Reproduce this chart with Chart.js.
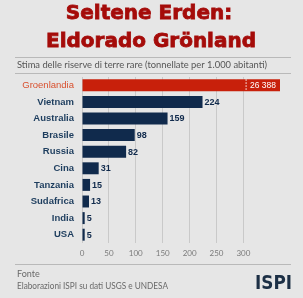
<!DOCTYPE html>
<html>
<head>
<meta charset="utf-8">
<script src="https://cdn.jsdelivr.net/npm/chart.js@4"></script>
<style>
  html, body { margin: 0; padding: 0; background: #e6e6e6; }
  #wrap { position: relative; width: 303px; height: 298px; }
</style>
</head>
<body>
<div id="wrap"><canvas id="c" width="303" height="298"></canvas></div>
<script>
  "use strict";

  const categories = ["Groenlandia", "Vietnam", "Australia", "Brasile", "Russia",
    "Cina", "Tanzania", "Sudafrica", "India", "USA"];
  const values = [26388, 224, 159, 98, 82, 31, 15, 13, 5, 5];
  const tickValues = [0, 50, 100, 150, 200, 250, 300];

  const TITLE = ["Seltene Erden:", "Eldorado Grönland"];
  const SUBTITLE = "Stima delle riserve di terre rare (tonnellate per 1.000 abitanti)";
  const SOURCE = ["Fonte", "Elaborazioni ISPI su dati USGS e UNDESA"];

  const RED = "#c8200b";
  const NAVY = "#102a4c";
  const AXIS_MAX = 368;

  function fmt(v) {
    return String(v).replace(/\B(?=(\d{3})+(?!\d))/g, " ");
  }

  // cornice: titolo, righe, fonte, logo
  const frame = {
    id: "frame",
    beforeDraw(chart) {
      const ctx = chart.ctx;
      ctx.save();
      ctx.textBaseline = "alphabetic";
      ctx.textAlign = "center";
      ctx.fillStyle = "#a50c0a";
      ctx.strokeStyle = "#a50c0a";
      ctx.lineWidth = 0.8;
      ctx.font = "bold 20px 'DejaVu Sans'";
      ctx.fillText(TITLE[0], 149, 19, 168);
      ctx.strokeText(TITLE[0], 149, 19, 168);
      ctx.fillText(TITLE[1], 151, 47, 210);
      ctx.strokeText(TITLE[1], 151, 47, 210);

      ctx.strokeStyle = "#b9b9b9";
      ctx.lineWidth = 1;
      [57.5, 73.5, 264.5].forEach((y) => {
        ctx.beginPath();
        ctx.moveTo(15, y);
        ctx.lineTo(291, y);
        ctx.stroke();
      });

      ctx.textAlign = "left";
      ctx.fillStyle = "#555";
      ctx.font = "9.5px Lato";
      ctx.fillText(SUBTITLE, 17, 68, 250);

      ctx.fillStyle = "#6a6a6a";
      ctx.font = "9px Lato";
      ctx.fillText(SOURCE[0], 17, 277);
      ctx.fillText(SOURCE[1], 17, 289, 151);

      ctx.fillStyle = "#1c2f45";
      ctx.font = "bold 20px 'DejaVu Sans'";
      ctx.fillText("ISPI", 255, 289, 37);
      ctx.restore();
    },
  };

  // etichette dei valori + interruzione della barra fuori scala
  const valueLabels = {
    id: "valueLabels",
    afterDatasetsDraw(chart) {
      const ctx = chart.ctx;
      const area = chart.chartArea;
      const xs = chart.scales.x;
      const meta = chart.getDatasetMeta(0);
      ctx.save();
      ctx.textBaseline = "middle";
      meta.data.forEach((bar, i) => {
        const v = values[i];
        if (v > AXIS_MAX) {
          const bx = xs.getPixelForValue(305);
          ctx.strokeStyle = "#fff";
          ctx.setLineDash([1.5, 1.5]);
          ctx.beginPath();
          ctx.moveTo(bx, bar.y - bar.height / 2);
          ctx.lineTo(bx, bar.y + bar.height / 2);
          ctx.stroke();
          ctx.setLineDash([]);
          ctx.fillStyle = "#fff";
          ctx.textAlign = "right";
          ctx.font = "9px 'Liberation Sans'";
          ctx.fillText(fmt(v), area.right - 4, bar.y + 0.5, 26);
        } else {
          ctx.fillStyle = NAVY;
          ctx.textAlign = "left";
          ctx.font = "bold 9px 'Liberation Sans'";
          ctx.fillText(fmt(v), bar.x + 2, bar.y + 0.5);
        }
      });
      ctx.restore();
    },
  };

  new Chart(document.getElementById("c"), {
    type: "bar",
    data: {
      labels: categories,
      datasets: [{
        data: values,
        backgroundColor: categories.map((c, i) => (i === 0 ? RED : NAVY)),
        borderWidth: 0,
        categoryPercentage: 0.8,
        barPercentage: 0.9,
      }],
    },
    plugins: [frame, valueLabels],
    options: {
      indexAxis: "y",
      responsive: false,
      animation: false,
      layout: { padding: { top: 77, right: 23, bottom: 35, left: 0 } },
      plugins: {
        legend: { display: false },
        tooltip: { enabled: false },
      },
      scales: {
        x: {
          type: "linear",
          min: 0,
          max: AXIS_MAX,
          afterBuildTicks: (s) => { s.ticks = tickValues.map((v) => ({ value: v })); },
          afterFit: (s) => { s.height = 20; },
          border: { display: false },
          grid: { color: "#c9c9c9", lineWidth: 1, drawTicks: false },
          ticks: {
            color: "#7a7a7a",
            font: { family: "Lato", size: 8 },
            padding: 6,
          },
        },
        y: {
          afterFit: (s) => { s.width = 82; },
          border: { display: false },
          grid: { display: false, drawTicks: false },
          ticks: {
            padding: 8,
            color: (c) => (c.index === 0 ? "#d9502e" : "#1d3d5e"),
            font: (c) => ({
              family: "'Liberation Sans'",
              size: 9.5,
              weight: c.index === 0 ? "normal" : "bold",
            }),
          },
        },
      },
    },
  });
</script>
</body>
</html>
